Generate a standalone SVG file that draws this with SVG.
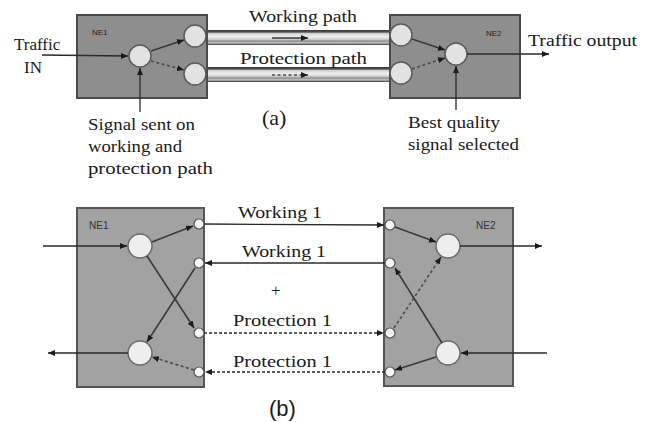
<svg xmlns="http://www.w3.org/2000/svg" width="648" height="422" viewBox="0 0 648 422">
<defs>
<style>
.box-a{fill:#8e8e8e;stroke:#4a4a4a;stroke-width:2}
.box-b{fill:#a2a2a2;stroke:#555;stroke-width:2}
.circ{fill:#e2e2e2;stroke:#5a5a5a;stroke-width:1.5}
.circb{fill:#eeeeee;stroke:#6a6a6a;stroke-width:1.5}
.port{fill:#f4f4f4;stroke:#555;stroke-width:1.2}
.ln{stroke:#2a2a2a;stroke-width:1.3;fill:none}
.lnd{stroke:#2a2a2a;stroke-width:1.3;fill:none;stroke-dasharray:3,2}
.lni{stroke:#3a3a3a;stroke-width:1.6;fill:none}
.lnid{stroke:#4a4a4a;stroke-width:1.6;fill:none;stroke-dasharray:3,2.5}
.lbl{font-size:17px;fill:#1a1a1a}
.cap{font-size:22px;fill:#1a1a1a}
.ne{font-family:'Liberation Sans',Arial,sans-serif;font-size:8px;fill:#222}
.neb{font-family:'Liberation Sans',Arial,sans-serif;font-size:10px;fill:#333}
</style>
<marker id="ah" markerWidth="8" markerHeight="8" refX="7" refY="4" orient="auto" markerUnits="userSpaceOnUse">
<path d="M0,1 L7,4 L0,7 Z" fill="#1a1a1a"/>
</marker>
<linearGradient id="pipe" x1="0" y1="0" x2="0" y2="1">
<stop offset="0" stop-color="#333"/>
<stop offset="0.14" stop-color="#555"/>
<stop offset="0.24" stop-color="#d6d6d6"/>
<stop offset="0.45" stop-color="#eeeeee"/>
<stop offset="0.62" stop-color="#cfcfcf"/>
<stop offset="0.74" stop-color="#8a8a8a"/>
<stop offset="0.86" stop-color="#c8c8c8"/>
<stop offset="1" stop-color="#333"/>
</linearGradient>
</defs>
<rect width="648" height="422" fill="#fff"/>

<!-- Part (a) -->
<g id="pipes-a">
<rect x="204" y="30" width="190" height="15" fill="url(#pipe)"/>
<rect x="204" y="67" width="190" height="15" fill="url(#pipe)"/>
</g>
<g id="a-NE1">
<rect class="box-a" x="77" y="15" width="130" height="83"/>
<text class="ne" x="92" y="35">NE1</text>
<circle class="circ" cx="140" cy="56" r="11"/>
<circle class="circ" cx="195" cy="36" r="11"/>
<circle class="circ" cx="195" cy="74" r="11"/>
</g>
<g id="a-NE2">
<rect class="box-a" x="390" y="15" width="130" height="83"/>
<text class="ne" x="486" y="36">NE2</text>
<circle class="circ" cx="401" cy="35" r="11"/>
<circle class="circ" cx="401" cy="73" r="11"/>
<circle class="circ" cx="456" cy="54" r="11"/>
</g>
<g id="a-labels" font-family="'Liberation Serif', 'DejaVu Serif', serif">
<text class="lbl" x="14" y="50">Traffic</text>
<text class="lbl" x="24" y="73">IN</text>
<text class="lbl" x="249" y="22" textLength="108" lengthAdjust="spacingAndGlyphs">Working path</text>
<text class="lbl" x="240" y="64" textLength="127" lengthAdjust="spacingAndGlyphs">Protection path</text>
<text class="lbl" x="528" y="46" textLength="109" lengthAdjust="spacingAndGlyphs">Traffic output</text>
<text class="lbl" x="88" y="130" textLength="107" lengthAdjust="spacingAndGlyphs">Signal sent on</text>
<text class="lbl" x="88" y="152" textLength="94" lengthAdjust="spacingAndGlyphs">working and</text>
<text class="lbl" x="88" y="174" textLength="125" lengthAdjust="spacingAndGlyphs">protection path</text>
<text class="lbl" x="408" y="128" textLength="92" lengthAdjust="spacingAndGlyphs">Best quality</text>
<text class="lbl" x="408" y="150" textLength="111" lengthAdjust="spacingAndGlyphs">signal selected</text>
<text class="cap" x="262" y="125">(a)</text>
</g>
<g id="connectors-a">
<line class="ln" x1="42" y1="55" x2="128" y2="56" marker-end="url(#ah)"/>
<line class="lni" x1="151" y1="51" x2="184" y2="40" marker-end="url(#ah)"/>
<line class="lnid" x1="151" y1="61" x2="184" y2="70" marker-end="url(#ah)"/>
<line class="ln" x1="140" y1="112" x2="140" y2="68" marker-end="url(#ah)"/>
<line class="lni" x1="272" y1="38" x2="308" y2="38" marker-end="url(#ah)"/>
<line class="lnid" x1="272" y1="75" x2="308" y2="75" marker-end="url(#ah)"/>
<line class="lni" x1="412" y1="39" x2="445" y2="50" marker-end="url(#ah)"/>
<line class="lnid" x1="412" y1="69" x2="445" y2="58" marker-end="url(#ah)"/>
<line class="ln" x1="467" y1="54" x2="549" y2="54" marker-end="url(#ah)"/>
<line class="ln" x1="456" y1="110" x2="456" y2="66" marker-end="url(#ah)"/>
</g>

<!-- Part (b) -->
<g id="b-NE1">
<rect class="box-b" x="77" y="208" width="127" height="179"/>
<text class="neb" x="89" y="229">NE1</text>
<circle class="circb" cx="140" cy="246" r="12"/>
<circle class="circb" cx="140" cy="353" r="12"/>
<circle class="port" cx="199" cy="224" r="5"/>
<circle class="port" cx="199" cy="263" r="5"/>
<circle class="port" cx="199" cy="333" r="5"/>
<circle class="port" cx="199" cy="372" r="5"/>
</g>
<g id="b-NE2">
<rect class="box-b" x="384" y="208" width="129" height="178"/>
<text class="neb" x="476" y="229">NE2</text>
<circle class="circb" cx="448" cy="246" r="12"/>
<circle class="circb" cx="448" cy="353" r="12"/>
<circle class="port" cx="390" cy="225" r="5"/>
<circle class="port" cx="390" cy="263" r="5"/>
<circle class="port" cx="390" cy="333" r="5"/>
<circle class="port" cx="390" cy="372" r="5"/>
</g>
<g id="b-labels" font-family="'Liberation Serif', 'DejaVu Serif', serif">
<text class="lbl" x="238" y="218" textLength="84" lengthAdjust="spacingAndGlyphs">Working 1</text>
<text class="lbl" x="242" y="257" textLength="84" lengthAdjust="spacingAndGlyphs">Working 1</text>
<text class="lbl" x="271" y="296">+</text>
<text class="lbl" x="233" y="326" textLength="99" lengthAdjust="spacingAndGlyphs">Protection 1</text>
<text class="lbl" x="233" y="367" textLength="99" lengthAdjust="spacingAndGlyphs">Protection 1</text>
<text class="cap" x="269" y="416" font-family="'Liberation Sans', Arial, sans-serif">(b)</text>
</g>
<g id="connectors-b">
<line class="ln" x1="43" y1="246" x2="127" y2="246" marker-end="url(#ah)"/>
<line class="ln" x1="128" y1="353" x2="48" y2="353" marker-end="url(#ah)"/>
<line class="lni" x1="152" y1="242" x2="193" y2="226" marker-end="url(#ah)"/>
<line class="lni" x1="147" y1="256" x2="194" y2="328" marker-end="url(#ah)"/>
<line class="lni" x1="195" y1="268" x2="147" y2="342" marker-end="url(#ah)"/>
<line class="lnid" x1="194" y1="370" x2="152" y2="357" marker-end="url(#ah)"/>
<line class="ln" x1="204" y1="224" x2="384" y2="225" marker-end="url(#ah)"/>
<line class="ln" x1="385" y1="263" x2="205" y2="263" marker-end="url(#ah)"/>
<line class="lnd" x1="204" y1="333" x2="384" y2="333" marker-end="url(#ah)"/>
<line class="lnd" x1="385" y1="372" x2="205" y2="372" marker-end="url(#ah)"/>
<line class="lni" x1="395" y1="227" x2="436" y2="242" marker-end="url(#ah)"/>
<line class="lnid" x1="394" y1="328" x2="441" y2="257" marker-end="url(#ah)"/>
<line class="lni" x1="442" y1="343" x2="395" y2="268" marker-end="url(#ah)"/>
<line class="lni" x1="436" y1="357" x2="395" y2="370" marker-end="url(#ah)"/>
<line class="ln" x1="460" y1="246" x2="542" y2="246" marker-end="url(#ah)"/>
<line class="ln" x1="547" y1="353" x2="461" y2="353" marker-end="url(#ah)"/>
</g>
</svg>
